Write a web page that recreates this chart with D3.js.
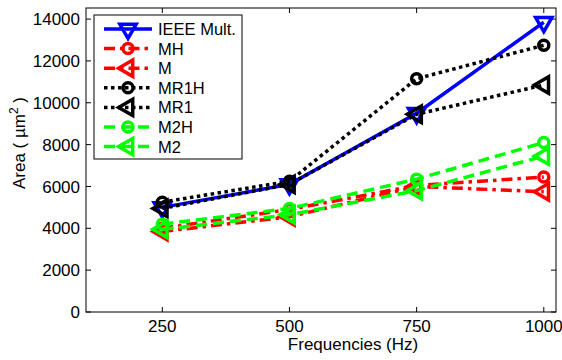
<!DOCTYPE html>
<html>
<head>
<meta charset="utf-8">
<script src="https://cdn.jsdelivr.net/npm/d3@7"></script>
<style>
    body { margin: 0; background: #fff; overflow: hidden; }
    svg { display: block; font-family: "Liberation Sans", Arial, sans-serif; }
    .tickLabel { font-size: 17px; fill: #000; }
    .axisTitle { font-size: 17px; fill: #000; }
    .legendText { font-size: 16.5px; fill: #000; }
</style>
</head>
<body>
<div class="areaChart"></div>
<script>
// chart data
const frequencies = [250, 500, 750, 1000];
const yTicks = [0, 2000, 4000, 6000, 8000, 10000, 12000, 14000];

const ieeeMult = [5000, 6100, 9500, 13850];
const mhArea   = [4000, 4900, 6050, 6450];
const mArea    = [3850, 4550, 6000, 5750];
const mr1hArea = [5250, 6250, 11150, 12750];
const mr1Area  = [4950, 6100, 9450, 10850];
const m2hArea  = [4200, 4950, 6350, 8100];
const m2Area   = [3950, 4650, 5800, 7450];

const seriesNames = ["IEEE Mult.", "MH", "M", "MR1H", "MR1", "M2H", "M2"];
const seriesValues = [ieeeMult, mhArea, mArea, mr1hArea, mr1Area, m2hArea, m2Area];

// styles per series
const seriesStyle = [
    { color: "#0000ff", dash: null,          marker: "down" },
    { color: "#ff0000", dash: "11,5,3.5,5",  marker: "circle" },
    { color: "#ff0000", dash: "11,5,3.5,5",  marker: "left" },
    { color: "#000000", dash: "3.5,3.5",     marker: "circle" },
    { color: "#000000", dash: "3.5,3.5",     marker: "left" },
    { color: "#00ff00", dash: "11,6",        marker: "circle" },
    { color: "#00ff00", dash: "11,6",        marker: "left" }
];

const LINE_W = 3.5;

const width = 562, height = 360;
const margin = { top: 8, right: 6, bottom: 48, left: 86 };
const innerWidth = width - margin.left - margin.right;
const innerHeight = height - margin.top - margin.bottom;

const svg = d3.select(".areaChart").append("svg")
    .attr("width", width)
    .attr("height", height);

const x = d3.scaleLinear().domain([100, 1024]).range([margin.left, margin.left + innerWidth]);
const y = d3.scaleLinear().domain([0, 14530]).range([margin.top + innerHeight, margin.top]);

// axes box
svg.append("rect")
    .attr("x", margin.left)
    .attr("y", margin.top)
    .attr("width", innerWidth)
    .attr("height", innerHeight)
    .attr("fill", "#fff")
    .attr("stroke", "#000")
    .attr("stroke-width", 1);

const tickLen = 5;
const axes = svg.append("g");

// x ticks (inside, bottom and top)
frequencies.forEach(f => {
    axes.append("line")
        .attr("x1", x(f)).attr("x2", x(f))
        .attr("y1", y(0)).attr("y2", y(0) - tickLen)
        .attr("stroke", "#000");
    axes.append("line")
        .attr("x1", x(f)).attr("x2", x(f))
        .attr("y1", margin.top).attr("y2", margin.top + tickLen)
        .attr("stroke", "#000");
    axes.append("text")
        .classed("tickLabel", true)
        .attr("x", x(f))
        .attr("y", y(0) + 20)
        .attr("text-anchor", "middle")
        .text(f);
});

// y ticks (inside, left and right)
yTicks.forEach(t => {
    axes.append("line")
        .attr("x1", margin.left).attr("x2", margin.left + tickLen)
        .attr("y1", y(t)).attr("y2", y(t))
        .attr("stroke", "#000");
    axes.append("line")
        .attr("x1", margin.left + innerWidth).attr("x2", margin.left + innerWidth - tickLen)
        .attr("y1", y(t)).attr("y2", y(t))
        .attr("stroke", "#000");
    axes.append("text")
        .classed("tickLabel", true)
        .attr("x", margin.left - 6)
        .attr("y", y(t))
        .attr("dy", "0.36em")
        .attr("text-anchor", "end")
        .text(t);
});

// axis titles
svg.append("text")
    .classed("axisTitle", true)
    .attr("x", x(625))
    .attr("y", 350)
    .attr("text-anchor", "middle")
    .text("Frequencies (Hz)");

const yTitle = svg.append("text")
    .classed("axisTitle", true)
    .attr("transform", "translate(25,143) rotate(-90)")
    .attr("text-anchor", "middle");
yTitle.append("tspan").text("Area ( \u00b5m");
yTitle.append("tspan").attr("dy", -7).attr("font-size", "12px").text("2");
yTitle.append("tspan").attr("dy", 7).text(" )");

// marker drawing
const triPath = d3.symbol().type(d3.symbolTriangle).size(115)();

function drawMarker(g, type, cx, cy, color)
{
    if (type === "circle")
    {
        g.append("circle")
            .attr("cx", cx).attr("cy", cy).attr("r", 5)
            .attr("fill", "none")
            .attr("stroke", color)
            .attr("stroke-width", LINE_W);
    }
    else
    {
        const angle = type === "down" ? 180 : -90;
        g.append("path")
            .attr("d", triPath)
            .attr("transform", "translate(" + cx + "," + cy + ") rotate(" + angle + ")")
            .attr("fill", "none")
            .attr("stroke", color)
            .attr("stroke-width", LINE_W)
            .attr("stroke-linejoin", "miter");
    }
}

const line = d3.line()
    .x((d, i) => x(frequencies[i]))
    .y(d => y(d));

const plot = svg.append("g");

seriesValues.forEach((vals, s) => {
    const st = seriesStyle[s];
    const g = plot.append("g");
    g.append("path")
        .attr("d", line(vals))
        .attr("fill", "none")
        .attr("stroke", st.color)
        .attr("stroke-width", LINE_W)
        .attr("stroke-dasharray", st.dash);
    vals.forEach((v, i) => drawMarker(g, st.marker, x(frequencies[i]), y(v), st.color));
});

// legend
const legend = svg.append("g");
legend.append("rect")
    .attr("x", 94).attr("y", 15)
    .attr("width", 148).attr("height", 144)
    .attr("fill", "#fff")
    .attr("stroke", "#000");

seriesNames.forEach((name, s) => {
    const st = seriesStyle[s];
    const ly = 29 + s * 19.6;
    const g = legend.append("g");
    g.append("line")
        .attr("x1", 104).attr("x2", 152)
        .attr("y1", ly).attr("y2", ly)
        .attr("stroke", st.color)
        .attr("stroke-width", LINE_W)
        .attr("stroke-dasharray", st.dash);
    drawMarker(g, st.marker, 128, ly, st.color);
    g.append("text")
        .classed("legendText", true)
        .attr("x", 158)
        .attr("y", ly)
        .attr("dy", "0.36em")
        .text(name);
});
</script>
</body>
</html>
